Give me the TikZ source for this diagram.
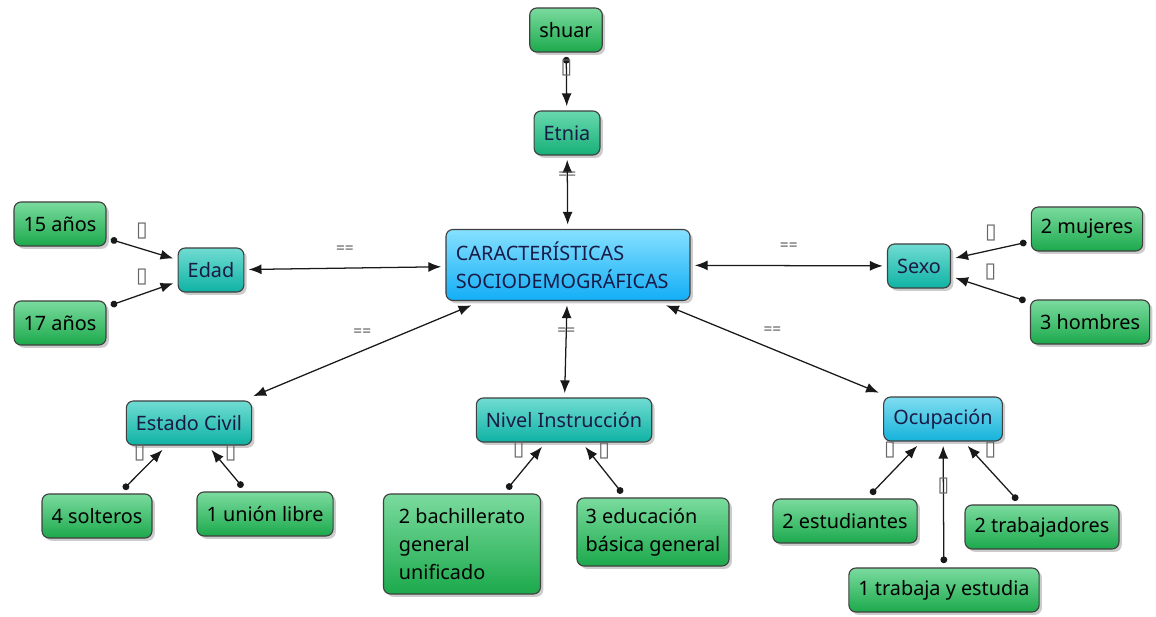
\documentclass[tikz,border=0pt]{standalone}
\usepackage{fontspec}
\setmainfont{Noto Sans}
\newfontfamily\symfont{DejaVu Sans}
\usepackage{tikz}
\usetikzlibrary{arrows.meta,shadows}
\definecolor{ink}{HTML}{1A1A46}
\definecolor{leafhi}{HTML}{7ADB9E}
\definecolor{leaflo}{HTML}{1CA94C}
\definecolor{tealhi}{HTML}{70DCD2}
\definecolor{teallo}{HTML}{0FB2A4}
\definecolor{etnhi}{HTML}{68D9AE}
\definecolor{etnlo}{HTML}{17AF78}
\definecolor{skyhi}{HTML}{86E0FF}
\definecolor{skylo}{HTML}{12AEF6}
\definecolor{ocuhi}{HTML}{80DDF0}
\definecolor{oculo}{HTML}{14B2DA}
\newcommand{\gbox}{{\symfont\char"25AF}}

\begin{document}
\begin{tikzpicture}[
  x=0.025cm,
  y=-0.025cm,
  base/.style={draw=black!75, line width=0.8pt, rounded corners=5pt, minimum height=1.1cm, inner xsep=2.4mm, outer sep=1.2mm,
    font=\fontsize{14.1}{19.8}\selectfont, drop shadow={shadow xshift=2pt, shadow yshift=-2pt, opacity=0.4}},
  leaf/.style={base, top color=leafhi, bottom color=leaflo, text=black},
  attr/.style={base, top color=tealhi, bottom color=teallo, text=ink},
  etn/.style={base, top color=etnhi, bottom color=etnlo, text=ink},
  hub/.style={base, top color=skyhi, bottom color=skylo, text=ink},
  ocu/.style={base, top color=ocuhi, bottom color=oculo, text=ink},
  dlink/.style={{Latex[length=3.2mm,width=2.5mm]}-{Latex[length=3.2mm,width=2.5mm]}, line width=0.9pt, draw=black!90},
  clink/.style={{Circle[length=1.7mm]}-{Latex[length=3.2mm,width=2.5mm]}, line width=0.9pt, draw=black!90},
  eq/.style={font=\fontsize{11}{11}\selectfont, text=black!65, inner sep=0pt},
  gl/.style={font=\fontsize{15}{15}\selectfont, text=black!60, inner sep=0pt}
]
  \useasboundingbox (0,0) rectangle (1156,617);

  % centre
  \node[hub, minimum width=6.1cm, minimum height=1.775cm, text width=5.6cm, inner xsep=2mm, align=left] (main) at (568,265) {CARACTERÍSTICAS\\SOCIODEMOGRÁFICAS};

  % first ring
  \node[etn] (etnia) at (567,133) {Etnia};
  \node[leaf] (shuar) at (566,30) {shuar};
  \node[attr] (edad) at (211,270) {Edad};
  \node[attr] (sexo) at (919,266) {Sexo};
  \node[attr] (civil) at (189,423) {Estado Civil};
  \node[attr] (nivel) at (564,420) {Nivel Instrucción};
  \node[ocu] (ocup) at (943,419) {Ocupación};

  % leaves
  \node[leaf] (a15) at (60,224) {15 años};
  \node[leaf] (a17) at (60,323) {17 años};
  \node[leaf] (muj) at (1087,229) {2 mujeres};
  \node[leaf] (hom) at (1090,322) {3 hombres};
  \node[leaf] (solt) at (97,516) {4 solteros};
  \node[leaf] (union) at (265,514) {1 unión libre};
  \node[leaf, align=left, inner xsep=2mm, minimum width=3.925cm, minimum height=2.5cm] (bach) at (462,544) {2 bachillerato\\general\\unificado};
  \node[leaf, align=left, inner xsep=2mm, minimum width=3.8cm, minimum height=1.7cm] (basica) at (653,532) {3 educación\\básica general};
  \node[leaf] (estu) at (845,521) {2 estudiantes};
  \node[leaf] (trab) at (1042,527) {2 trabajadores};
  \node[leaf] (ambos) at (944,590) {1 trabaja y estudia};

  \draw[dlink] (main) -- node[eq, pos=.75] {==} (etnia);
  \draw[dlink] (main) -- node[eq, midway, above=3.5mm] {==} (edad);
  \draw[dlink] (main) -- node[eq, midway, above=3.5mm] {==} (sexo);
  \draw[dlink] (main) -- node[eq, midway, above=3.5mm] {==} (civil);
  \draw[dlink] (main) -- node[eq, pos=.3] {==} (nivel);
  \draw[dlink] (main) -- node[eq, midway, above=3.5mm] {==} (ocup);

  \draw[clink] (shuar) -- node[gl, pos=.22] {\gbox} (etnia);
  \draw[clink] (a15) -- node[gl, midway, above=2.2mm] {\gbox} (edad);
  \draw[clink] (a17) -- node[gl, midway, above=2.2mm] {\gbox} (edad);
  \draw[clink] (muj) -- node[gl, midway, above=2.2mm] {\gbox} (sexo);
  \draw[clink] (hom) -- node[gl, midway, above=2.2mm] {\gbox} (sexo);
  \draw[clink] (solt) -- node[gl, pos=.92, left=3.3mm] {\gbox} (civil);
  \draw[clink] (union) -- node[gl, pos=.92, right=2.6mm] {\gbox} (civil);
  \draw[clink] (bach) -- node[gl, pos=.92, left=3.5mm] {\gbox} (nivel);
  \draw[clink] (basica) -- node[gl, pos=.92, right=2.4mm] {\gbox} (nivel);
  \draw[clink] (estu) -- node[gl, pos=.92, left=4.3mm] {\gbox} (ocup);
  \draw[clink] (trab) -- node[gl, pos=.92, right=3.1mm] {\gbox} (ocup);
  \draw[clink] (ambos) -- node[gl, pos=.66] {\gbox} (ocup);
\end{tikzpicture}
\end{document}
